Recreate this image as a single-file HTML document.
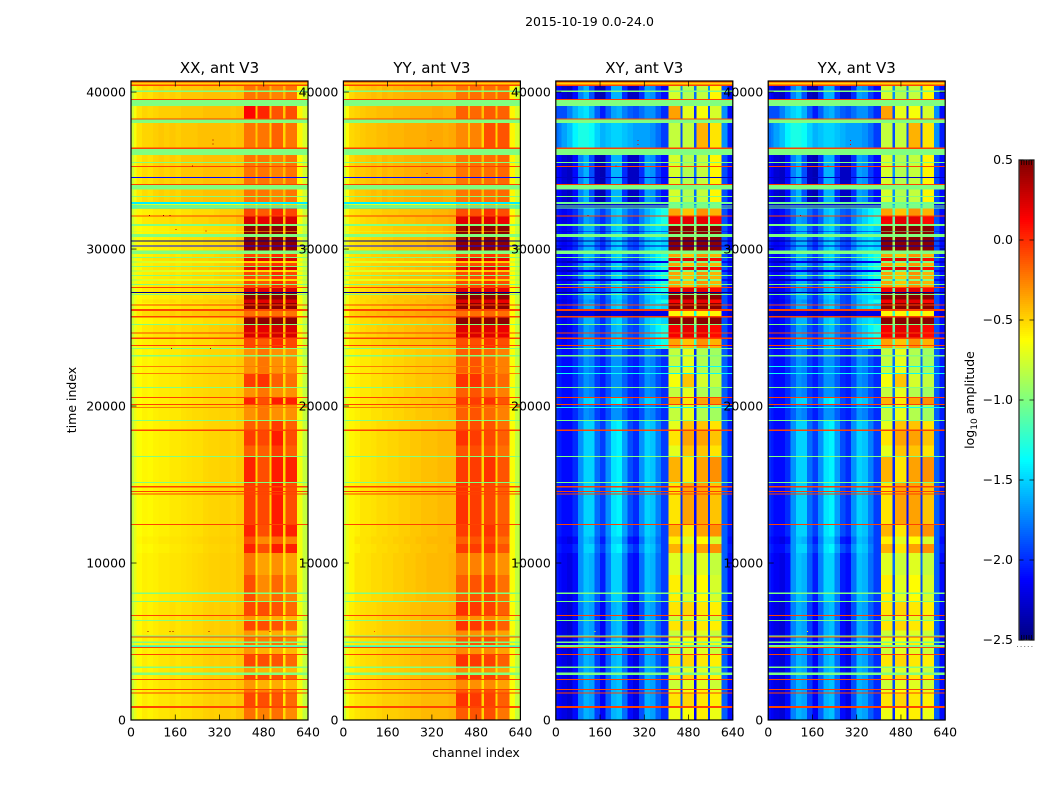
<!DOCTYPE html>
<html>
<head>
<meta charset="utf-8">
<title>2015-10-19 0.0-24.0</title>
<style>
html,body{margin:0;padding:0;background:#fff;width:1050px;height:800px;overflow:hidden}
svg{display:block}
text{font-family:"DejaVu Sans","Liberation Sans",sans-serif;font-size:12.5px;fill:#000}
</style>
</head>
<body>
<svg id="figure" width="1050" height="800" viewBox="0 0 1050 800" xmlns="http://www.w3.org/2000/svg">
<text x="589.5" y="26" text-anchor="middle">2015-10-19 0.0-24.0</text>
<text x="476" y="757" text-anchor="middle">channel index</text>
<text transform="translate(76,400) rotate(-90)" text-anchor="middle">time index</text>
<text transform="translate(974,400) rotate(-90)" text-anchor="middle">log<tspan font-size="9" dy="3">10</tspan><tspan dy="-3"> amplitude</tspan></text>
<g id="cells"></g>
<g id="axes"></g>
<g id="colorbar"></g>
</svg>
<script>
const panelTitles = ['XX, ant V3','YY, ant V3','XY, ant V3','YX, ant V3'];
const xTicks = [0,160,320,480,640];
const yTicks = [0,10000,20000,30000,40000];
const colorbarTicks = [-2.5,-2.0,-1.5,-1.0,-0.5,0.0,0.5];
const channelEdges = [0,10,20,40,60,80,100,120,140,160,180,200,220,240,260,280,300,320,340,360,380,408,450,458,500,508,550,558,600,620,640];
const timeMax = 40704;

/* time bands: [start time index, spectrum kind]; each band ends where the next begins */
const rowBands = [
[0,'A'],[764,'R'],[892,'A3'],[1688,'R'],[1752,'A'],[1924,'R'],[1987,'A2'],[2561,'R'],[2624,'A3'],[2867,'G'],[3025,'A2'],[3312,'G'],[3408,'A3'],[4153,'R'],[4217,'A2'],[4586,'R'],[4650,'C'],[4682,'G'],[4778,'A'],[4905,'G'],[5000,'A'],[5255,'R'],[5319,'G'],[5395,'A2'],[5700,'A3'],[6319,'G'],[6383,'A2'],[6638,'R'],[6701,'A3'],[7530,'G'],[7593,'B'],[8026,'G'],[8122,'B'],[9230,'B2'],[10650,'C3'],[11200,'B'],[11700,'C3'],[12434,'R'],[12497,'C1'],
[14364,'R'],[14428,'C1'],[14537,'R'],[14600,'C1'],[14798,'R'],[14905,'C1'],[15110,'G'],[15174,'C3'],[16766,'G'],[16829,'C2'],[17500,'C1'],[18409,'R'],[18505,'C2'],[19059,'G'],[19123,'D'],[19887,'O'],[19951,'D'],[20078,'R'],[20141,'C3'],[20524,'R'],[20588,'D'],[21161,'G'],[21225,'D2'],[22053,'O'],[22117,'D'],[22499,'O'],[22563,'D'],[23142,'G'],[23250,'D'],[23644,'G'],[23708,'P'],[23836,'R'],[23900,'P'],[24270,'R'],[24365,'T'],[24620,'R'],[24683,'T'],[25160,'G'],[25225,'S'],[25627,'R'],[25735,'V'],[26053,'R'],[26181,'S'],[26404,'R'],[26468,'S'],[26563,'T'],[26800,'S'],[27073,'G'],[27136,'S'],[27213,'K'],[27276,'T'],[27518,'R'],
[27582,'P'],[27710,'G'],[27774,'P'],[27965,'Y'],[28092,'P'],[28283,'G'],[28347,'P'],[28538,'Y'],[28665,'T'],[28856,'G'],[28920,'P'],[29111,'Y'],[29238,'T'],[29429,'G'],[29493,'P'],[29684,'G'],[29907,'S'],[30162,'N'],[30226,'S'],[30481,'K'],[30545,'S'],[30767,'G'],[30958,'S'],[31118,'Y'],[31150,'S'],[31468,'G'],[31595,'T'],[32073,'R'],[32137,'P'],[32583,'C'],[32647,'Y'],[32710,'C'],[32774,'Y'],[32869,'C'],[32996,'W'],[33328,'G'],[33392,'W'],[33792,'G'],[34080,'R'],[34144,'W'],[34525,'N'],[34589,'W'],[35226,'R'],[35290,'W'],[35494,'G'],[35558,'W'],[35990,'G'],[36373,'R'],[36468,'H'],[38028,'G'],[38251,'R'],[38315,'F'],[39112,'G'],[39494,'R'],[39558,'W'],[40004,'G'],[40100,'W'],[40386,'R'],[40494,'Z'],[40596,'R']
];

/* which left-of-RFI channel profile each spectrum kind uses */
const leftZoneOfKind = {A:'a',A2:'a',A3:'a',B:'b',B2:'b',C1:'c',C2:'c',C3:'c',D:'d',D2:'d',W:'w',F:'f',H:'h',P:'p',V:'v',Y:'y',T:'t',S:'s'};

/* log10 amplitude for channels below 408, one profile per zone */
const xxLeft = {
a:[-.8,-.7,-.61,-.57,-.59,-.57,-.55,-.55,-.53,-.55,-.53,-.53,-.51,-.51,-.49,-.48,-.49,-.47,-.47,-.49,-.45],
b:[-.8,-.7,-.61,-.58,-.59,-.58,-.56,-.56,-.55,-.55,-.54,-.53,-.52,-.51,-.5,-.49,-.49,-.48,-.48,-.49,-.46],
c:[-.8,-.7,-.63,-.6,-.61,-.59,-.58,-.58,-.56,-.56,-.55,-.54,-.53,-.53,-.51,-.5,-.5,-.49,-.49,-.5,-.47],
d:[-.78,-.68,-.62,-.59,-.6,-.58,-.57,-.57,-.56,-.56,-.54,-.53,-.52,-.52,-.51,-.5,-.5,-.49,-.49,-.5,-.47],
w:[-.78,-.67,-.56,-.52,-.54,-.5,-.48,-.5,-.48,-.5,-.46,-.46,-.46,-.46,-.44,-.44,-.44,-.44,-.44,-.46,-.44],
f:[-.76,-.65,-.54,-.5,-.52,-.5,-.48,-.48,-.48,-.48,-.46,-.46,-.46,-.46,-.44,-.44,-.44,-.44,-.44,-.46,-.44],
h:[-.76,-.65,-.54,-.5,-.5,-.48,-.46,-.48,-.46,-.48,-.46,-.46,-.46,-.44,-.44,-.44,-.44,-.44,-.44,-.46,-.44],
p:[-.76,-.68,-.6,-.58,-.58,-.56,-.56,-.56,-.54,-.56,-.54,-.54,-.52,-.52,-.52,-.52,-.5,-.48,-.48,-.48,-.46],
v:[-.76,-.66,-.56,-.52,-.52,-.5,-.5,-.5,-.48,-.5,-.48,-.48,-.46,-.46,-.46,-.44,-.44,-.42,-.42,-.42,-.4],
y:[-.86,-.82,-.76,-.74,-.74,-.74,-.72,-.72,-.72,-.72,-.72,-.72,-.72,-.7,-.7,-.7,-.7,-.7,-.68,-.68,-.66],
t:[-.78,-.68,-.6,-.56,-.56,-.54,-.54,-.54,-.52,-.54,-.52,-.52,-.5,-.5,-.5,-.48,-.48,-.46,-.46,-.46,-.42],
s:[-.78,-.68,-.62,-.6,-.6,-.58,-.58,-.58,-.56,-.56,-.54,-.54,-.54,-.54,-.52,-.52,-.52,-.5,-.5,-.5,-.46]
};
const yyLeft = {
a:[-.8,-.66,-.58,-.55,-.53,-.52,-.52,-.5,-.48,-.48,-.48,-.47,-.46,-.44,-.44,-.42,-.42,-.42,-.42,-.42,-.4],
b:[-.8,-.68,-.6,-.55,-.55,-.54,-.52,-.52,-.5,-.5,-.48,-.48,-.46,-.46,-.44,-.44,-.42,-.42,-.42,-.42,-.4],
c:[-.8,-.68,-.6,-.58,-.55,-.55,-.54,-.52,-.52,-.5,-.5,-.48,-.48,-.46,-.46,-.44,-.44,-.44,-.42,-.42,-.42],
d:[-.78,-.66,-.6,-.58,-.56,-.56,-.54,-.54,-.52,-.52,-.5,-.5,-.48,-.48,-.46,-.46,-.46,-.44,-.44,-.44,-.42],
w:[-.78,-.64,-.51,-.47,-.47,-.45,-.43,-.45,-.41,-.43,-.41,-.41,-.39,-.39,-.39,-.37,-.37,-.37,-.37,-.39,-.39],
f:[-.76,-.62,-.51,-.49,-.47,-.45,-.45,-.43,-.43,-.43,-.41,-.41,-.41,-.39,-.39,-.39,-.39,-.37,-.37,-.39,-.39],
h:[-.76,-.62,-.51,-.49,-.47,-.45,-.45,-.43,-.43,-.41,-.41,-.41,-.39,-.39,-.39,-.39,-.37,-.37,-.37,-.39,-.37],
p:[-.76,-.64,-.55,-.53,-.51,-.51,-.49,-.49,-.47,-.47,-.47,-.45,-.45,-.43,-.43,-.43,-.43,-.41,-.41,-.41,-.39],
v:[-.74,-.62,-.5,-.48,-.46,-.44,-.44,-.42,-.42,-.4,-.4,-.4,-.38,-.38,-.36,-.36,-.36,-.34,-.34,-.34,-.32],
y:[-.86,-.8,-.74,-.72,-.72,-.72,-.7,-.7,-.7,-.68,-.68,-.68,-.68,-.66,-.66,-.66,-.66,-.64,-.64,-.64,-.62],
t:[-.78,-.66,-.56,-.54,-.52,-.5,-.5,-.48,-.48,-.46,-.46,-.46,-.44,-.44,-.42,-.42,-.42,-.4,-.4,-.4,-.38],
s:[-.78,-.66,-.56,-.54,-.52,-.52,-.5,-.5,-.48,-.48,-.46,-.46,-.46,-.44,-.44,-.44,-.42,-.42,-.42,-.4,-.38]
};
const xyLeft = {
a:[-2.1,-2.15,-2.2,-2.25,-2.1,-1.75,-1.6,-1.65,-1.95,-2.15,-1.85,-1.6,-1.55,-1.8,-2.1,-2.2,-1.9,-1.6,-1.65,-1.85,-2.0],
b:[-2.05,-2.1,-2.15,-2.2,-2.1,-1.7,-1.55,-1.6,-1.85,-2.05,-1.75,-1.5,-1.5,-1.75,-2.05,-2.1,-1.8,-1.55,-1.6,-1.8,-1.95],
c:[-2.0,-2.05,-2.1,-2.1,-2.0,-1.7,-1.5,-1.5,-1.8,-1.95,-1.7,-1.45,-1.4,-1.65,-1.9,-2.0,-1.7,-1.5,-1.55,-1.75,-1.95],
d:[-2.0,-2.05,-2.1,-2.1,-2.0,-1.85,-1.7,-1.75,-1.95,-2.05,-1.9,-1.7,-1.7,-1.85,-2.0,-2.05,-1.9,-1.7,-1.75,-1.9,-2.0],
w:[-2.1,-2.15,-2.25,-2.3,-2.1,-1.75,-1.6,-1.9,-2.3,-2.35,-2.0,-1.6,-1.6,-2.0,-2.3,-2.3,-2.0,-1.65,-1.7,-1.95,-2.1],
f:[-1.9,-1.9,-1.9,-1.75,-1.6,-1.5,-1.45,-1.6,-1.85,-2.05,-1.85,-1.65,-1.6,-1.75,-1.85,-1.9,-1.8,-1.7,-1.7,-1.85,-2.0],
h:[-1.8,-1.75,-1.65,-1.55,-1.4,-1.3,-1.3,-1.35,-1.5,-1.6,-1.55,-1.5,-1.5,-1.55,-1.6,-1.65,-1.65,-1.65,-1.7,-1.8,-1.95],
p:[-2.05,-2.1,-2.15,-2.1,-2.0,-1.8,-1.6,-1.6,-1.8,-1.95,-1.8,-1.55,-1.5,-1.7,-1.85,-1.9,-1.75,-1.6,-1.5,-1.4,-1.3],
v:[-2.3,-2.3,-2.35,-2.35,-2.3,-2.25,-2.2,-2.2,-2.3,-2.35,-2.3,-2.2,-2.2,-2.25,-2.3,-2.35,-2.3,-2.2,-2.2,-2.2,-2.2],
y:[-2.2,-2.25,-2.3,-2.35,-2.3,-2.2,-2.15,-2.2,-2.3,-2.35,-2.3,-2.2,-2.2,-2.25,-2.3,-2.35,-2.3,-2.2,-2.2,-2.2,-2.2],
t:[-2.1,-2.15,-2.2,-2.15,-2.05,-1.85,-1.65,-1.7,-1.9,-2.0,-1.85,-1.6,-1.55,-1.75,-1.9,-1.95,-1.75,-1.6,-1.5,-1.4,-1.3],
s:[-2.05,-2.1,-2.15,-2.1,-2.0,-1.8,-1.6,-1.6,-1.85,-2.0,-1.8,-1.55,-1.5,-1.7,-1.9,-1.95,-1.75,-1.55,-1.5,-1.45,-1.5]
};
const yxLeft = xyLeft;

/* log10 amplitude for channels 408-640: block, gap, block, gap, block, gap, block, edge, edge */
const xxRfi = {
A:[-.2,-.55,-.25,-.5,-.2,-.52,-.28,-.66,-.8],A2:[-.32,-.6,-.4,-.6,-.38,-.6,-.42,-.66,-.8],A3:[-.08,-.55,-.1,-.55,-.12,-.55,-.18,-.66,-.8],
B:[-.1,-.5,-.28,-.5,-.18,-.52,-.25,-.66,-.8],B2:[-.22,-.55,-.35,-.55,-.3,-.55,-.35,-.66,-.8],
C1:[-.05,-.45,-.08,-.5,.05,-.5,-.1,-.66,-.8],C2:[-.15,-.5,-.15,-.5,-.05,-.5,-.15,-.66,-.8],C3:[.03,-.5,-.1,-.5,.05,-.5,.03,-.66,-.8],
D:[-.3,-.48,-.22,-.5,-.3,-.5,-.3,-.66,-.8],D2:[-.05,-.45,-.02,-.5,-.15,-.5,-.2,-.66,-.8],
W:[-.22,-.42,-.22,-.42,-.26,-.42,-.22,-.62,-.76],F:[.12,-.46,.02,-.46,-.12,-.46,-.1,-.6,-.74],H:[-.22,-.46,-.22,-.5,-.16,-.5,-.22,-.6,-.74],
P:[-.08,-.48,-.14,-.48,.0,-.48,-.08,-.64,-.78],V:[-.2,-.48,-.24,-.48,-.2,-.48,-.22,-.64,-.78],
Y:[-.52,-.64,-.52,-.64,-.48,-.64,-.52,-.74,-.84],T:[.24,-.45,.2,-.45,.26,-.45,.24,-.64,-.78],S:[.46,-.44,.46,-.42,.46,-.44,.46,-.66,-.79]
};
const yyRfi = {
A:[-.14,-.5,-.12,-.5,-.1,-.5,-.22,-.64,-.8],A2:[-.28,-.55,-.3,-.55,-.28,-.55,-.35,-.64,-.8],A3:[-.02,-.5,-.04,-.5,-.06,-.5,-.15,-.64,-.8],
B:[-.15,-.5,-.12,-.5,-.08,-.5,-.2,-.64,-.8],B2:[-.25,-.55,-.25,-.55,-.2,-.55,-.3,-.64,-.8],
C1:[-.02,-.45,-.05,-.48,-.08,-.48,-.15,-.64,-.8],C2:[-.12,-.48,-.1,-.5,-.12,-.5,-.2,-.64,-.8],C3:[-.05,-.45,-.05,-.5,-.02,-.5,-.12,-.64,-.8],
D:[-.15,-.45,-.12,-.45,-.18,-.45,-.25,-.64,-.8],D2:[-.02,-.42,-.02,-.45,-.12,-.45,-.18,-.64,-.8],
W:[-.22,-.42,-.2,-.42,-.2,-.42,-.18,-.6,-.76],F:[-.16,-.44,-.18,-.44,-.14,-.44,-.16,-.6,-.74],H:[-.28,-.48,-.26,-.5,-.1,-.5,-.12,-.6,-.74],
P:[-.1,-.48,-.1,-.48,-.02,-.48,-.1,-.62,-.78],V:[-.2,-.48,-.2,-.48,-.18,-.48,-.2,-.62,-.78],
Y:[-.48,-.62,-.48,-.62,-.46,-.62,-.48,-.74,-.84],T:[.22,-.42,.24,-.42,.22,-.42,.18,-.62,-.78],S:[.46,-.4,.47,-.4,.46,-.42,.46,-.64,-.78]
};
const xyRfi = {
A:[-.68,-2.0,-.64,-2.15,-.58,-2.0,-.68,-1.85,-2.1],A2:[-.78,-1.9,-.72,-2.1,-.72,-1.9,-.78,-1.85,-2.1],A3:[-.55,-1.9,-.5,-2.1,-.56,-1.9,-.58,-1.85,-2.1],
B:[-.58,-1.9,-.72,-2.15,-.62,-1.9,-.75,-1.85,-2.1],B2:[-.72,-1.8,-.78,-2.1,-.72,-1.8,-.8,-1.85,-2.1],
C1:[-.55,-2.0,-.35,-2.1,-.35,-2.0,-.45,-1.85,-2.05],C2:[-.7,-2.0,-.45,-2.1,-.45,-2.0,-.55,-1.85,-2.05],C3:[-.4,-2.0,-.55,-2.1,-.35,-2.0,-.3,-1.85,-2.05],
D:[-.8,-1.8,-.7,-2.0,-.85,-1.8,-.9,-1.85,-2.05],D2:[-.65,-1.8,-.45,-2.0,-.75,-1.8,-.8,-1.85,-2.05],
W:[-.75,-1.7,-.85,-1.8,-.8,-1.7,-.6,-1.9,-2.1],F:[-.35,-1.9,-.7,-2.0,-.65,-1.9,-.75,-1.7,-2.1],H:[-.8,-1.9,-.8,-1.9,-.4,-1.9,-.55,-1.7,-2.05],
P:[-.35,-1.1,-.45,-1.2,-.3,-1.1,-.4,-1.9,-2.1],V:[-.6,-1.2,-.6,-1.3,-.6,-1.2,-.6,-2.1,-2.25],
Y:[-1.0,-1.6,-1.0,-1.7,-1.0,-1.6,-1.0,-2.1,-2.25],T:[.15,-1.1,.2,-1.1,.2,-1.1,.1,-1.9,-2.1],S:[.47,-.9,.47,-.9,.47,-.9,.47,-1.9,-2.1]
};
const yxRfi = xyRfi;

/* flat flagged-row levels (full width) per panel */
const xxFlags = {G:-1.0,R:-0.07,C:-1.42,K:-2.45,N:-2.1,O:-0.24,Z:-.5};
const yyFlags = {G:-1.0,R:-0.07,C:-1.42,K:-2.45,N:-2.1,O:-0.24,Z:-.5};
const xyFlags = {G:-1.0,R:-0.07,C:-1.05,K:-2.45,N:-2.3,O:-1.35,Z:-.5};
const yxFlags = {G:-1.0,R:-0.07,C:-1.05,K:-2.45,N:-2.3,O:-1.35,Z:-.5};

/* isolated outlier samples: [time index, channel, value] */
const xxSpecks = [[5640,60,.4],[5640,140,.45],[5640,150,.45],[5640,280,.45],[5640,500,.4],[36700,295,.4],[36950,295,.4],[35300,220,.4],[32130,65,.4],[32130,115,.45],[32130,140,.4],[31250,160,.3],[31150,270,.3],[23650,145,.4],[23650,285,.4]];
const yySpecks = [[36900,315,.1],[34800,300,.1],[5640,110,-.1]];
const xySpecks = [[36650,295,.2],[36900,295,.2],[35280,215,.2],[32130,115,.3],[23650,140,-.6],[23650,285,-.9],[5640,140,-.6]];
const yxSpecks = [[36650,295,.2],[36900,295,.2],[35280,215,.2],[32130,115,.3],[23650,140,-.6],[23650,285,-.9],[5640,140,-.6]];

const leftByPanel = [xxLeft, yyLeft, xyLeft, yxLeft];
const rfiByPanel = [xxRfi, yyRfi, xyRfi, yxRfi];
const flagsByPanel = [xxFlags, yyFlags, xyFlags, yxFlags];
const specksByPanel = [xxSpecks, yySpecks, xySpecks, yxSpecks];

const NS = 'http://www.w3.org/2000/svg';
const AX_TOP = 81, AX_BOTTOM = 720, AX_W = 177, AX_STEP = 212.4, AX_LEFT0 = 131;
const CB_L = 1019, CB_R = 1034, CB_T = 160, CB_B = 640;
const VMIN = -2.5, VMAX = 0.5;

function panelLeft(p){ return AX_LEFT0 + p * AX_STEP; }
function xScale(p, ch){ return panelLeft(p) + ch / 640 * AX_W; }
function yScale(t){ return AX_BOTTOM - t / timeMax * (AX_BOTTOM - AX_TOP); }
function cbScale(v){ return CB_B - (v - VMIN) / (VMAX - VMIN) * (CB_B - CB_T); }
function jet(v){
  const f = Math.max(0, Math.min(1, (v - VMIN) / (VMAX - VMIN)));
  const ch = function(c){ return Math.round(255 * Math.max(0, Math.min(1, 1.5 - Math.abs(4 * f - c)))); };
  return 'rgb(' + ch(3) + ',' + ch(2) + ',' + ch(1) + ')';
}
function mk(tag, attrs, parent){
  const e = document.createElementNS(NS, tag);
  for (const k in attrs) e.setAttribute(k, attrs[k]);
  parent.appendChild(e);
  return e;
}

const cellsG = document.getElementById('cells');
const axesG = document.getElementById('axes');
const cbG = document.getElementById('colorbar');

panelTitles.forEach(function(title, p){
  const g = mk('g', {'shape-rendering':'crispEdges'}, cellsG);
  
  
  const left = leftByPanel[p], rfi = rfiByPanel[p], flags = flagsByPanel[p];
  rowBands.forEach(function(band, r){
    const tStart = band[0];
    const tEnd = r + 1 < rowBands.length ? rowBands[r + 1][0] : timeMax;
    const y1 = yScale(tEnd), y0 = yScale(tStart);
    const kind = band[1];
    const isFlag = kind in flags;
    const spectrum = isFlag ? null : left[leftZoneOfKind[kind]].concat(rfi[kind]);
    for (let c = 0; c < channelEdges.length - 1; c++) {
      const v = isFlag ? flags[kind] : spectrum[c];
      const x0 = xScale(p, channelEdges[c]), x1 = xScale(p, channelEdges[c + 1]);
      const cell = mk('rect', {x:x0, y:y1, width:x1 - x0, height:y0 - y1, fill:jet(v)}, g);
      
      
    }
  });
  specksByPanel[p].forEach(function(s){
    const sp = mk('rect', {x:xScale(p, s[1]), y:yScale(s[0]) - 0.5, width:1, height:1, fill:jet(s[2])}, g);
    
    
  });
});

panelTitles.forEach(function(title, p){
  const L = panelLeft(p), R = L + AX_W;
  const g = mk('g', {}, axesG);
  
  
  const frame = mk('rect', {x:L, y:AX_TOP, width:AX_W, height:AX_BOTTOM - AX_TOP, fill:'none', stroke:'#000', 'stroke-width':1.2}, g);
  
  
  const t = mk('text', {x:L + AX_W / 2, y:73, 'text-anchor':'middle', style:'font-size:15px'}, g);
  
  
  t.textContent = title;
  xTicks.forEach(function(tick){
    const x = xScale(p, tick);
    const a = mk('line', {x1:x, x2:x, y1:AX_BOTTOM, y2:AX_BOTTOM - 5.5, stroke:'#000', 'stroke-width':.7}, g);
    
    
    const b = mk('line', {x1:x, x2:x, y1:AX_TOP, y2:AX_TOP + 5.5, stroke:'#000', 'stroke-width':.7}, g);
    
    
    const lab = mk('text', {x:x, y:736.5, 'text-anchor':'middle'}, g);
    
    
    lab.textContent = tick;
  });
  yTicks.forEach(function(tick){
    const y = yScale(tick);
    const a = mk('line', {x1:L, x2:L + 5.5, y1:y, y2:y, stroke:'#000', 'stroke-width':.7}, g);
    
    
    const b = mk('line', {x1:R, x2:R - 5.5, y1:y, y2:y, stroke:'#000', 'stroke-width':.7}, g);
    
    
    const lab = mk('text', {x:L - 5, y:y + 4.5, 'text-anchor':'end'}, g);
    
    
    lab.textContent = tick;
  });
});

/* colorbar */
const cbRamp = mk('g', {'shape-rendering':'crispEdges'}, cbG);


for (let py = CB_T; py < CB_B; py += 2) {
  const v = VMAX - (py + 1 - CB_T) / (CB_B - CB_T) * (VMAX - VMIN);
  const seg = mk('rect', {x:CB_L, y:py, width:CB_R - CB_L, height:2, fill:jet(v)}, cbRamp);
  
  
}
const cbFrame = mk('rect', {x:CB_L, y:CB_T, width:CB_R - CB_L, height:CB_B - CB_T, fill:'none', stroke:'#333', 'stroke-width':1.3}, cbG);


colorbarTicks.forEach(function(v){
  const y = cbScale(v);
  const a = mk('line', {x1:CB_L, x2:CB_L + 4.5, y1:y, y2:y, stroke:'#000', 'stroke-width':.7}, cbG);
  
  
  const b = mk('line', {x1:CB_R, x2:CB_R - 4.5, y1:y, y2:y, stroke:'#000', 'stroke-width':.7}, cbG);
  
  
  const lab = mk('text', {x:CB_L - 6, y:y + 4, 'text-anchor':'end'}, cbG);
  
  
  lab.textContent = v.toFixed(1).replace('-', '\u2212');
});
for (let i = 1; i <= 5; i++) {
  const x = CB_L + i * (CB_R - CB_L) / 6;
  const a = mk('line', {x1:x, x2:x, y1:CB_T, y2:CB_T + 5, stroke:'#000', 'stroke-width':.7}, cbG);
  
  
  const b = mk('line', {x1:x, x2:x, y1:CB_B, y2:CB_B - 5, stroke:'#000', 'stroke-width':.7}, cbG);
  
  
}
const dots = mk('line', {x1:1017, x2:1035, y1:646.5, y2:646.5, stroke:'#777', 'stroke-width':1, 'stroke-dasharray':'1 2.6'}, cbG);


</script>
</body>
</html>
